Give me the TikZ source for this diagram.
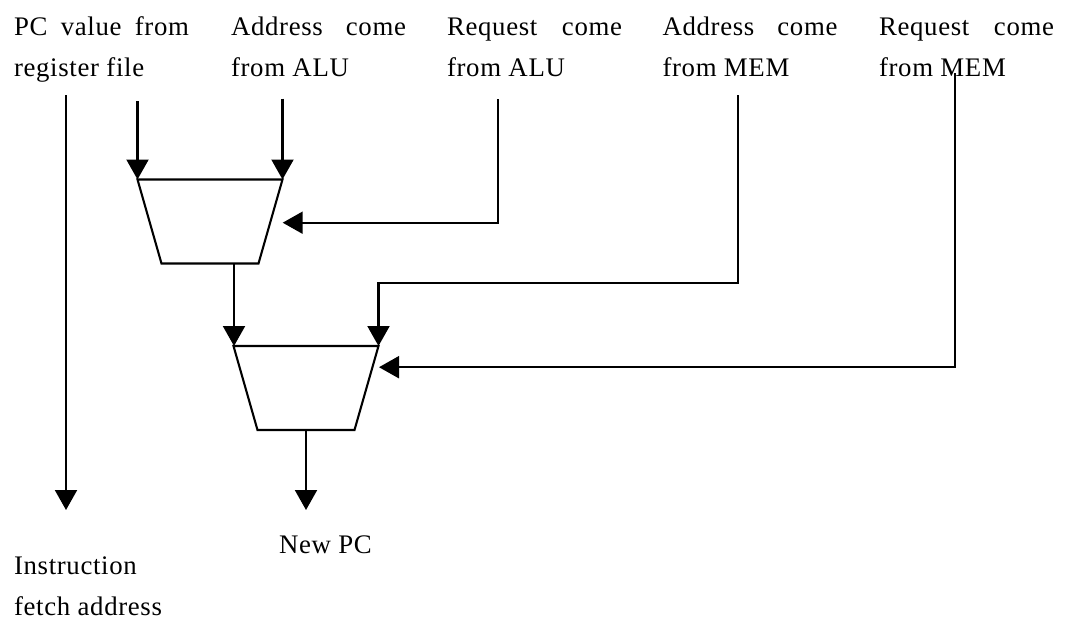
\documentclass[tikz,border=0pt]{standalone}
\usepackage{fontspec}
\setmainfont{Liberation Serif}[LetterSpace=2.5]
\usetikzlibrary{arrows.meta}
\newcommand{\twolines}[2]{\vtop{\baselineskip=41.7pt\hbox{\makebox[175pt][s]{#1}}\hbox{#2}}}
\begin{document}
\begin{tikzpicture}[x=1pt,y=-1pt,
  lbl/.style={inner sep=0pt,outer sep=0pt,anchor=base west,font=\fontsize{26.8pt}{41.7pt}\selectfont},
  wire/.style={line width=2.1pt,line join=miter},
  arr/.style={wire,-{Triangle[length=20pt,width=22pt]}},
  muxbox/.style={line width=2.1pt,line join=miter}]
\useasboundingbox (0,0) rectangle (1065,624);
% labels
\node[lbl] (pcv) at (14,35) {\twolines{PC value from}{register file}};
\node[lbl] (aalu) at (231,35) {\twolines{Address come}{from ALU}};
\node[lbl] (ralu) at (447,35) {\twolines{Request come}{from ALU}};
\node[lbl] (amem) at (662.5,35) {\twolines{Address come}{from MEM}};
\node[lbl] (rmem) at (879,35) {\twolines{Request come}{from MEM}};
\node[lbl] (newpc) at (279,553.3) {New PC};
\node[lbl] (ifa) at (14,574) {\vtop{\baselineskip=41pt\hbox{Instruction}\hbox{fetch address}}};
% mux shapes
\coordinate (m1tl) at (137.5,179.5);
\coordinate (m1tr) at (282.5,179.5);
\coordinate (m1br) at (258.5,263.5);
\coordinate (m1bl) at (161.5,263.5);
\coordinate (m2tl) at (233.5,346);
\coordinate (m2tr) at (378.5,346);
\coordinate (m2br) at (354.5,430);
\coordinate (m2bl) at (257.5,430);
\draw[muxbox] (m1tl) -- (m1tr) -- (m1br) -- (m1bl) -- cycle;
\draw[muxbox] (m2tl) -- (m2tr) -- (m2br) -- (m2bl) -- cycle;
% wire endpoints
\coordinate (pcs) at (66,95);
\coordinate (pce) at (66,510);
\coordinate (a1s) at (137.5,101);
\coordinate (a2s) at (282.5,98.5);
\coordinate (ras) at (497.6,99);
\coordinate (rac) at (497.6,222.7);
\coordinate (rae) at (282.7,222.7);
\coordinate (m1o) at (234,263.5);
\coordinate (m2i) at (234,346);
\coordinate (ams) at (738.3,95);
\coordinate (amc1) at (738.3,283.3);
\coordinate (amc2) at (378.5,283.3);
\coordinate (rms) at (955,73);
\coordinate (rmc) at (955,367.2);
\coordinate (rme) at (379,367.2);
\coordinate (m2o) at (306,430);
\coordinate (oute) at (306,510);
% wires
\draw[arr] (pcs) -- (pce);
\draw[arr] (a1s) -- (m1tl);
\draw[arr] (a2s) -- (m1tr);
\draw[arr] (ras) -- (rac) -- (rae);
\draw[arr] (m1o) -- (m2i);
\draw[arr] (ams) -- (amc1) -- (amc2) -- (m2tr);
\draw[arr] (rms) -- (rmc) -- (rme);
\draw[arr] (m2o) -- (oute);
\end{tikzpicture}
\end{document}
